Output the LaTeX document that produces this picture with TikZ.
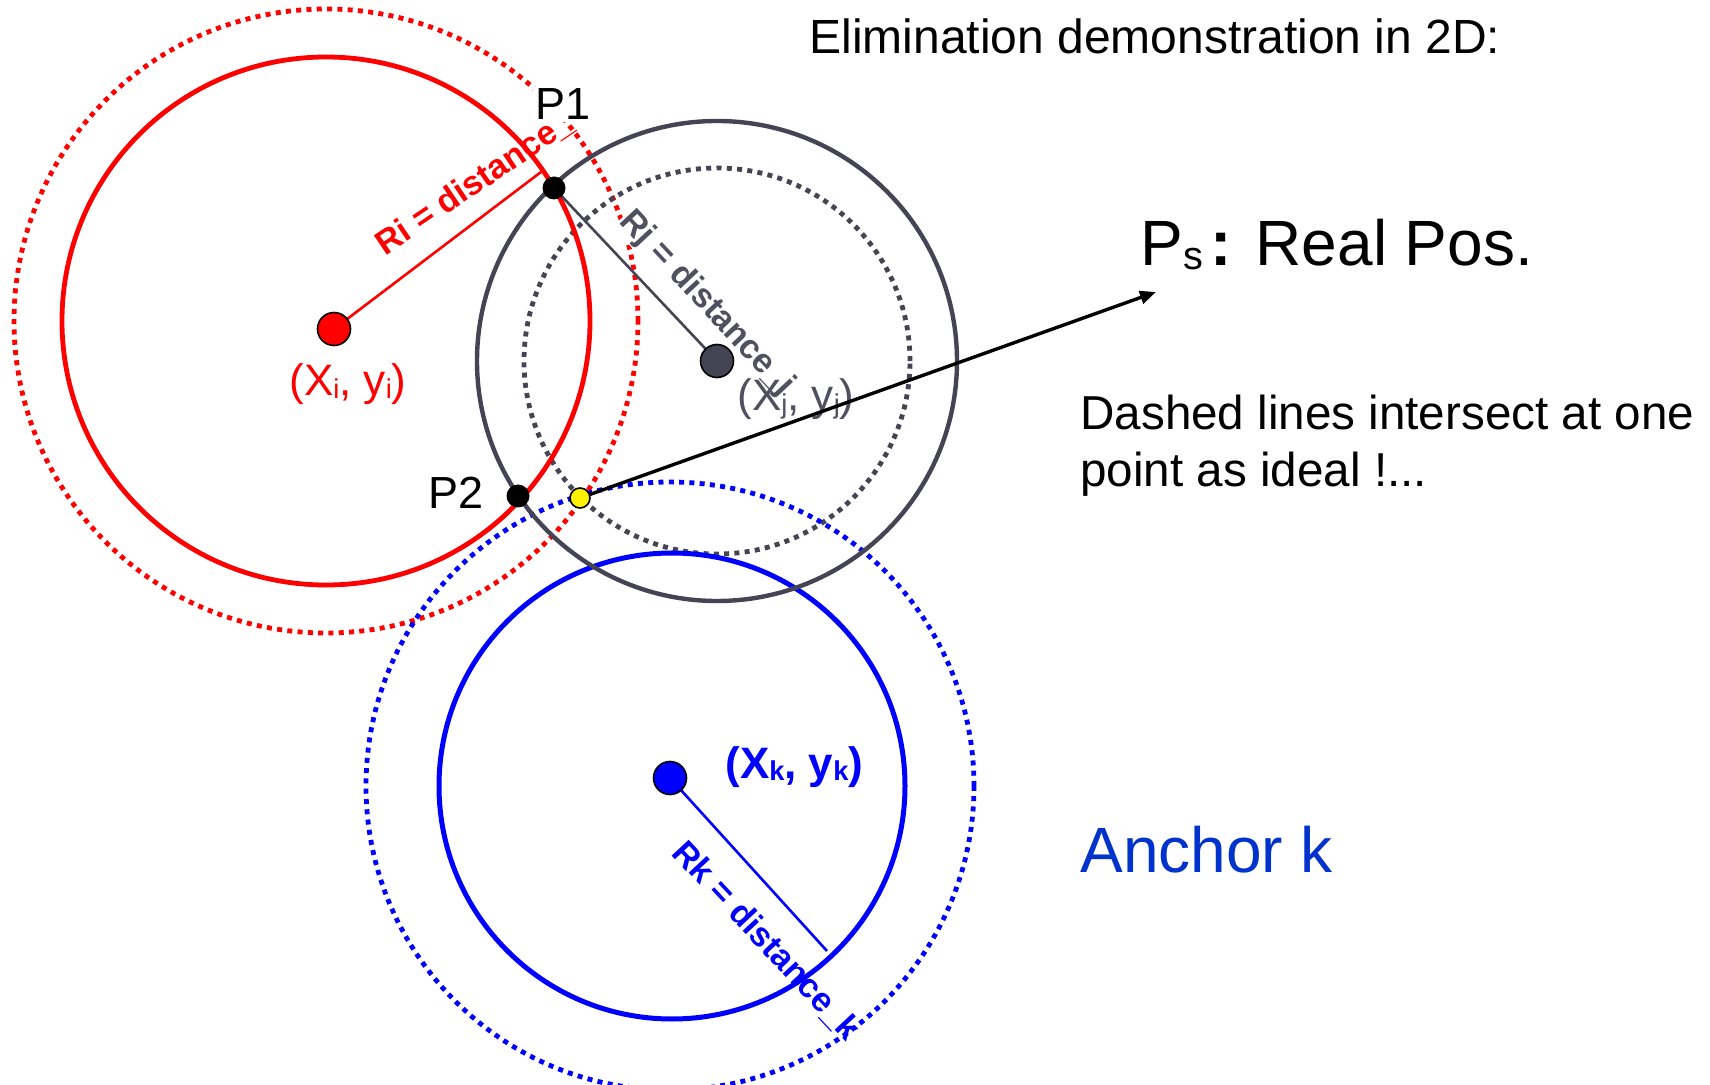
\documentclass[tikz,border=0pt]{standalone}
\usepackage{fontspec}
\setmainfont{Liberation Sans}
\usepackage{graphicx}
\usetikzlibrary{arrows.meta}
\definecolor{ired}{RGB}{255,0,0}
\definecolor{jgray}{RGB}{68,68,84}
\definecolor{jtext}{RGB}{80,80,96}
\definecolor{kblue}{RGB}{0,0,255}
\definecolor{anchorblue}{RGB}{0,51,204}
\newcommand\lsub[1]{\raisebox{-0.06em}{\scalebox{0.62}{#1}}}
\tikzset{
  solidc/.style={line width=2.4pt},
  dotc/.style={line width=2.4pt, dash pattern=on 2.5pt off 2.65pt},
  radline/.style={line width=1.3pt},
  anchordot/.style={circle, draw=black, line width=0.8pt, minimum size=16.5pt, inner sep=0pt},
  pdot/.style={circle, fill=black, minimum size=11.5pt, inner sep=0pt},
  rlbl/.style={inner sep=0.5pt, font=\bfseries\fontsize{17}{20}\selectfont, anchor=base west},
  txt/.style={inner sep=0pt, anchor=base west},
}
\begin{document}
\begin{tikzpicture}[x=0.5pt,y=-0.5pt]
\path[use as bounding box, fill=white] (0,0) rectangle (1710,1085);
% centres and points
\coordinate (ci) at (326,321);
\coordinate (cj) at (717,361);
\coordinate (ck) at (672,786);
\coordinate (ckd) at (670,786);
\coordinate (ci0) at (334,329);
\coordinate (ck0) at (670,778);
\coordinate (cp1) at (554,188);
\coordinate (cp2) at (518,496);
\coordinate (cy) at (580,498);
\coordinate (riend) at (541,172);
\coordinate (rkend) at (827,951);
\coordinate (pse) at (1156,292);
% dotted circles
\draw[dotc, ired] (ci) circle[radius=156pt];
\draw[dotc, jgray] (cj) circle[radius=96.5pt];
\draw[dotc, kblue] (ckd) circle[radius=152pt];
% radius labels
\node[rlbl, jtext, fill=white, rotate=-47] (rj) at (618,221) {Rj = distance\_j};
\node[rlbl, ired, rotate=34] (ri) at (384,257) {Ri = distance\_};
\node[rlbl, kblue, rotate=-47] (rk) at (670,853) {Rk = distance\_k};
% solid circles
\draw[solidc, ired] (ci) circle[radius=132pt];
\draw[solidc, kblue, line width=2.5pt] (ck) circle[radius=116.5pt];
\draw[solidc, jgray, line width=2.2pt] (cj) circle[radius=120pt];
% radius lines
\draw[radline, ired] (ci0) -- (riend);
\draw[radline, jgray] (cp1) -- (cj);
\draw[radline, kblue] (ck0) -- (rkend);
% point labels
\node[txt, fill=white, inner sep=1pt, font=\fontsize{22.5}{27}\selectfont] (p1l) at (533,120) {P1};
\node[txt, font=\fontsize{22.5}{27}\selectfont] (p2l) at (428,509) {P2};
\node[txt, ired, font=\fontsize{22}{26}\selectfont] (li) at (289,396) {(X\lsub{i}, y\lsub{i})};
\node[txt, jtext, font=\fontsize{22}{26}\selectfont] (lj) at (737,411) {(X\lsub{j}, y\lsub{j})};
\node[txt, kblue, font=\bfseries\fontsize{22}{26}\selectfont] (lk) at (725,778) {(X\lsub{k}, y\lsub{k})};
% arrow
\draw[line width=1.7pt, -{Triangle[length=8pt,width=6.5pt]}] (cy) -- (pse);
% dots
\node[anchordot, fill=ired] (di) at (ci0) {};
\node[anchordot, fill=jgray] (dj) at (cj) {};
\node[anchordot, fill=kblue] (dk) at (ck0) {};
\node[pdot] (p1) at (cp1) {};
\node[pdot] (p2) at (cp2) {};
\node[circle, draw=black, fill=yellow, line width=0.8pt, minimum size=10pt, inner sep=0pt] (ps) at (cy) {};
% texts
\node[txt, font=\fontsize{24}{29}\selectfont] (title) at (809,54) {Elimination demonstration in 2D:};
\node[txt, font=\fontsize{32}{38}\selectfont] (pslbl) at (1140,266) {P\lsub{s}\hspace{0.12em}\textbf{:} Real Pos.};
\node[txt, font=\fontsize{23.8}{29}\selectfont] (d1) at (1080,430) {Dashed lines intersect at one};
\node[txt, font=\fontsize{23.8}{29}\selectfont] (d2) at (1080,487) {point as ideal !...};
\node[txt, anchorblue, font=\fontsize{32}{38}\selectfont] (ak) at (1080,872) {Anchor k};
\end{tikzpicture}
\end{document}
